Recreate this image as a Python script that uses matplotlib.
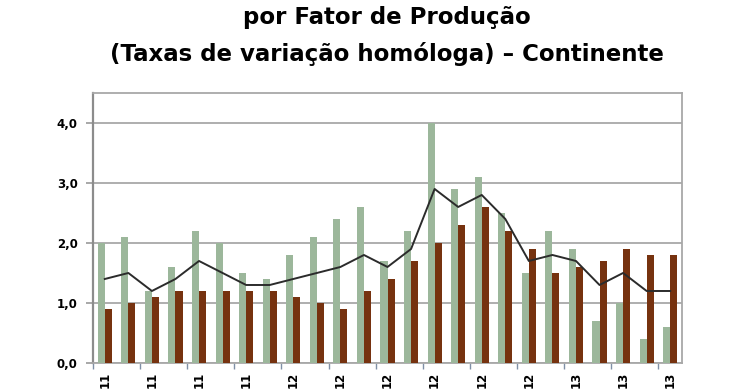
import matplotlib.pyplot as plt
import numpy as np

# monthly values, May 2011 .. May 2013
periods = list(range(25))
tick_labels = ["11", "11", "11", "11", "12", "12", "12", "12", "12", "12", "13", "13", "13"]
serie_verde = [2.0, 2.1, 1.2, 1.6, 2.2, 2.0, 1.5, 1.4, 1.8, 2.1, 2.4, 2.6, 1.7,
               2.2, 4.0, 2.9, 3.1, 2.5, 1.5, 2.2, 1.9, 0.7, 1.0, 0.4, 0.6]
serie_castanha = [0.9, 1.0, 1.1, 1.2, 1.2, 1.2, 1.2, 1.2, 1.1, 1.0, 0.9, 1.2, 1.4,
                  1.7, 2.0, 2.3, 2.6, 2.2, 1.9, 1.5, 1.6, 1.7, 1.9, 1.8, 1.8]
total = [1.4, 1.5, 1.2, 1.4, 1.7, 1.5, 1.3, 1.3, 1.4, 1.5, 1.6, 1.8, 1.6,
         1.9, 2.9, 2.6, 2.8, 2.4, 1.7, 1.8, 1.7, 1.3, 1.5, 1.2, 1.2]

fig = plt.figure(figsize=(7.4, 3.89), dpi=100)
ax = fig.add_axes([0.1257, 0.0668, 0.7959, 0.6943])

x = np.array(periods)
w = 0.3
ax.bar(x - w / 2, serie_verde, width=w, color="#9cb79b", zorder=3)
ax.bar(x + w / 2, serie_castanha, width=w, color="#76320f", zorder=3)
ax.plot(x, total, color="#2b2b2b", lw=1.4, zorder=4)

ax.set_xlim(-0.5, 24.5)
ax.set_ylim(0, 4.5)
ax.set_yticks([0, 1, 2, 3, 4])
ax.set_yticklabels(["0,0", "1,0", "2,0", "3,0", "4,0"], fontsize=8.5, fontweight="bold")
ax.yaxis.grid(True, color="#a8a8a8", lw=1.3, zorder=0)

ax.set_xticks(x[::2])
ax.set_xticklabels(tick_labels, rotation=90, fontsize=8.5, fontweight="bold", va="top")
ax.set_xticks(np.arange(-0.5, 24.6, 2), minor=True)
ax.tick_params(axis="x", which="major", length=0, pad=6)
ax.tick_params(axis="x", which="minor", length=4, color="#7f8fa6", width=1)
ax.tick_params(axis="y", length=5, color="#999999", width=1.2, pad=6)

for s in ax.spines.values():
    s.set_color("#a8a8a8")
    s.set_linewidth(1.3)
ax.spines["left"].set_color("#8c8c8c")
ax.spines["left"].set_linewidth(1.6)

fig.text(0.523, 0.955, "por Fator de Produção", ha="center", va="center",
         fontsize=16.5, fontweight="bold")
fig.text(0.523, 0.862, "(Taxas de variação homóloga) – Continente", ha="center",
         va="center", fontsize=16.5, fontweight="bold")

fig.savefig("out.png", dpi=100)
